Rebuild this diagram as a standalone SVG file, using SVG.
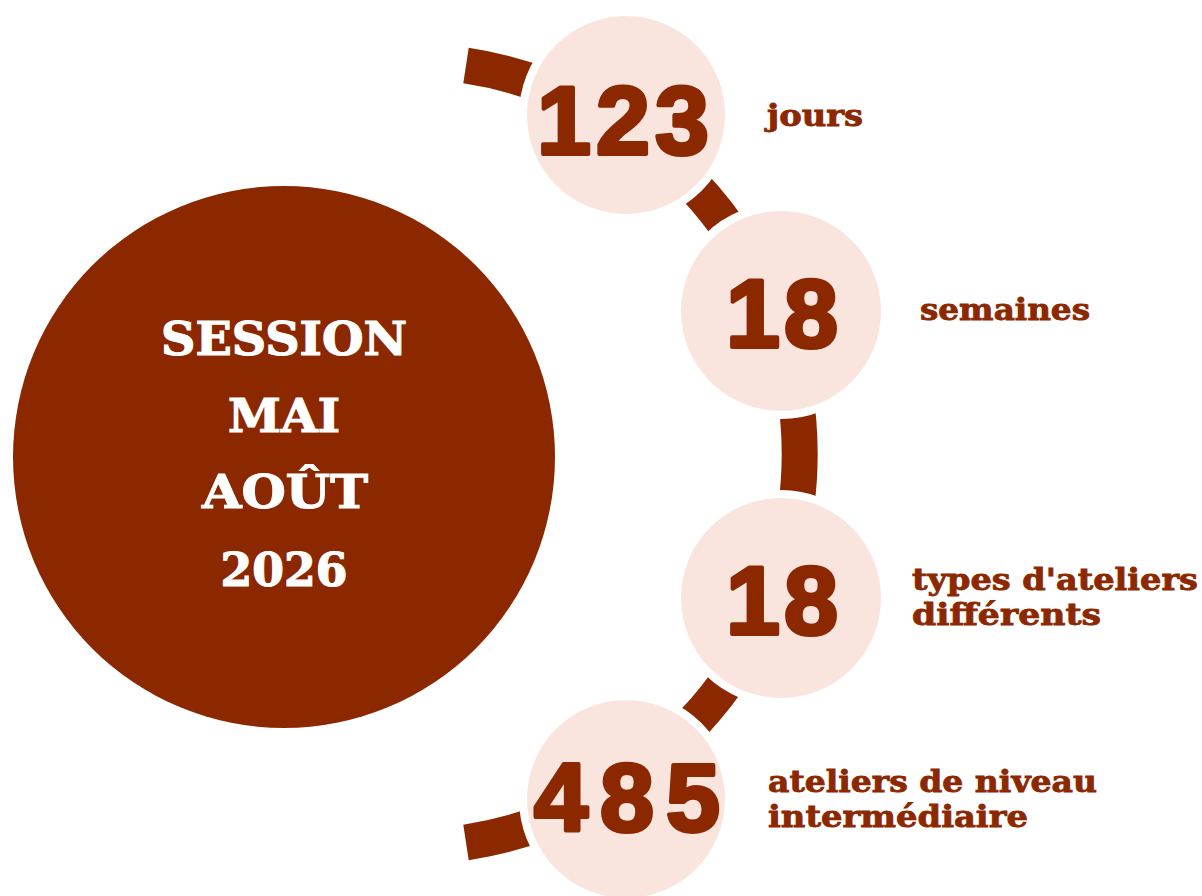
<svg xmlns="http://www.w3.org/2000/svg" width="1202" height="896" viewBox="0 0 1202 896">
<style>
.big{fill:#8C2800}
.pale{fill:#FAE5DE;stroke:#FFFFFF;stroke-width:8}
.num{font-family:"Liberation Sans",Arial,sans-serif;font-weight:bold;font-size:97px;fill:#8C2800;stroke:#8C2800;stroke-width:4;stroke-linejoin:round;text-anchor:middle}
.lbl{font-family:"DejaVu Serif","Liberation Serif",serif;font-weight:bold;font-size:29px;fill:#8C2800;stroke:#8C2800;stroke-width:0.8}
.ttl{font-family:"DejaVu Serif","Liberation Serif",serif;font-weight:bold;font-size:46px;fill:#FFFFFF;stroke:#FFFFFF;stroke-width:1.2;text-anchor:middle}
</style>
<rect width="1202" height="896" fill="#FFFFFF"/>
<g id="connectors">
<path d="M 466 65.5 A 393 393 0 0 1 466 842.5" fill="none" stroke="#8C2800" stroke-width="36"/>
</g>
<g id="session">
<circle class="big" cx="284" cy="457" r="271"/>
<text class="ttl" x="284" y="355" textLength="246" lengthAdjust="spacingAndGlyphs">SESSION</text>
<text class="ttl" x="284" y="432" textLength="112" lengthAdjust="spacingAndGlyphs">MAI</text>
<text class="ttl" x="285" y="508" textLength="166" lengthAdjust="spacingAndGlyphs">AOÛT</text>
<text class="ttl" x="284" y="586" textLength="127" lengthAdjust="spacingAndGlyphs">2026</text>
</g>
<g id="jours">
<circle class="pale" cx="626" cy="115" r="103"/>
<text class="num" x="623" y="154" textLength="172" lengthAdjust="spacing">123</text>
<text class="lbl" x="767" y="126" textLength="96" lengthAdjust="spacingAndGlyphs">jours</text>
</g>
<g id="semaines">
<circle class="pale" cx="781" cy="311" r="104"/>
<text class="num" x="782" y="347" textLength="112" lengthAdjust="spacing">18</text>
<text class="lbl" x="920" y="320" textLength="170" lengthAdjust="spacingAndGlyphs">semaines</text>
</g>
<g id="types">
<circle class="pale" cx="781" cy="598" r="104"/>
<text class="num" x="782" y="634" textLength="112" lengthAdjust="spacing">18</text>
<text class="lbl" x="912" y="590" textLength="286" lengthAdjust="spacingAndGlyphs">types d'ateliers</text>
<text class="lbl" x="912" y="625" textLength="189" lengthAdjust="spacingAndGlyphs">différents</text>
</g>
<g id="ateliers">
<circle class="pale" cx="626" cy="799" r="103"/>
<text class="num" x="627" y="831" textLength="186" lengthAdjust="spacing">485</text>
<text class="lbl" x="768" y="792" textLength="329" lengthAdjust="spacingAndGlyphs">ateliers de niveau</text>
<text class="lbl" x="768" y="827" textLength="260" lengthAdjust="spacingAndGlyphs">intermédiaire</text>
</g>
</svg>
